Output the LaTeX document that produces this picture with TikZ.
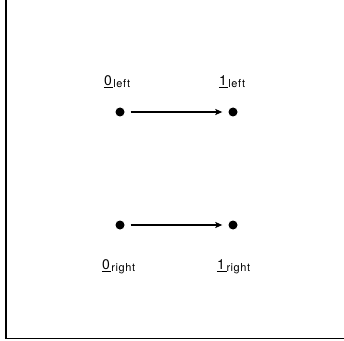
\documentclass[tikz,border=0pt]{standalone}
\usepackage{fontspec}
\setmainfont{TeX Gyre Heros}
\newfontfamily\subfont[LetterSpace=5]{TeX Gyre Heros}
\usetikzlibrary{arrows.meta}
\newcommand{\lbl}[2]{\fontsize{14pt}{16pt}\selectfont\underline{\kern0.3pt#1\kern1.5pt}\raisebox{-0.25ex}{\fontsize{11pt}{13pt}\subfont #2}}
\tikzset{
  dot/.style={circle,fill=black,inner sep=0pt,minimum size=9pt},
  lab/.style={inner sep=0pt,anchor=base},
  arr/.style={line width=1.3pt,-{Stealth[length=7pt,width=6pt,inset=1.5pt]},shorten <=6pt,shorten >=6pt}
}
\begin{document}
\begin{tikzpicture}[x=1pt,y=1pt]
\useasboundingbox (0,0) rectangle (344,340);
\clip (0,0) rectangle (344,340);
\draw[line width=1.8pt] (6,1.5) rectangle (400,400);
\node[dot] (a0) at (120,228) {};
\node[dot] (a1) at (233,228) {};
\node[dot] (b0) at (120,115) {};
\node[dot] (b1) at (233,115) {};
\draw[arr] (a0) -- (a1);
\draw[arr] (b0) -- (b1);
\node[lab] (la0) at (117,254) {\lbl{0}{left}};
\node[lab] (la1) at (232,254) {\lbl{1}{left}};
\node[lab] (lb0) at (118.5,70.5) {\lbl{0}{right}};
\node[lab] (lb1) at (233.5,70.5) {\lbl{1}{right}};
\end{tikzpicture}
\end{document}
